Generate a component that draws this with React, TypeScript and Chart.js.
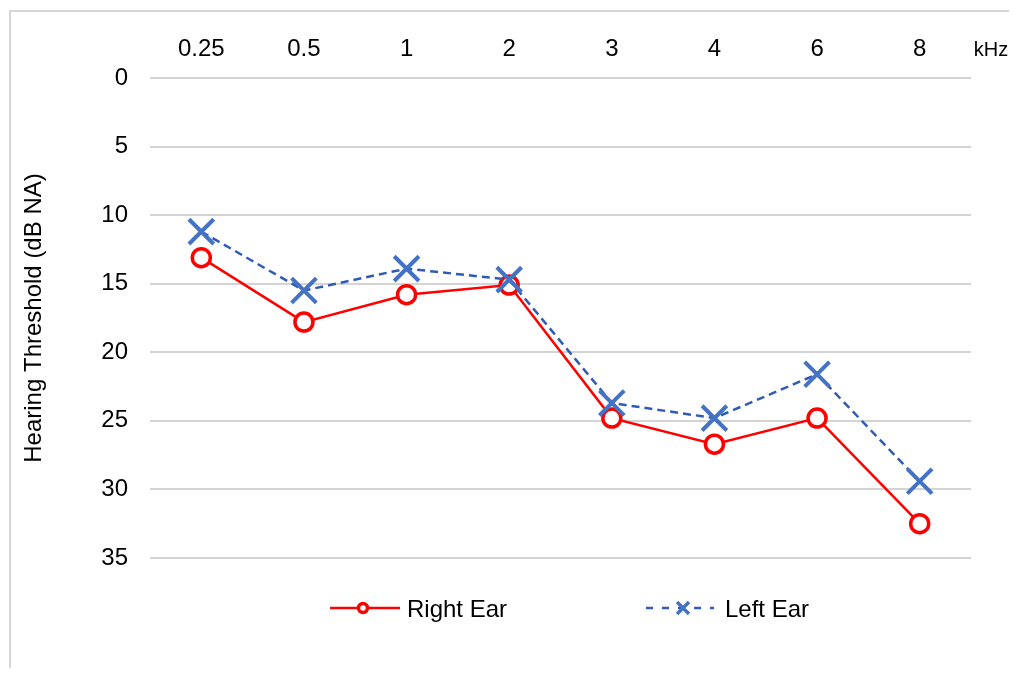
import { useEffect, useRef } from 'react';
import { Chart, registerables } from 'chart.js';

Chart.register(...registerables);

// ---- data ----
const frequencies = ['0.25', '0.5', '1', '2', '3', '4', '6', '8'];
const rightEar = [13.1, 17.8, 15.8, 15.1, 24.8, 26.7, 24.8, 32.5];
const leftEar = [11.2, 15.5, 13.9, 14.7, 23.7, 24.8, 21.6, 29.4];
const seriesNames = ['Right Ear', 'Left Ear'];
const unitLabel = 'kHz';
const yTitle = 'Hearing Threshold (dB NA)';
const yMin = 0;
const yMax = 35;
const yStep = 5;

const FONT = '"Liberation Sans", Arial, sans-serif';
const RED = '#ff0000';
const BLUE_LINE = '#2f5bb7';
const BLUE_MARK = '#4472c4';

const decorPlugin = {
  id: 'decor',
  beforeDraw(chart: any) {
    const { ctx, width, height } = chart;
    ctx.save();
    ctx.fillStyle = '#ffffff';
    ctx.fillRect(0, 0, width, height);
    ctx.strokeStyle = '#d6d6d6';
    ctx.lineWidth = 2;
    ctx.beginPath();
    ctx.moveTo(2, height);
    ctx.lineTo(2, 3);
    ctx.lineTo(width, 3);
    ctx.stroke();
    ctx.restore();
  },
  afterDraw(chart: any) {
    const { ctx, chartArea } = chart;
    ctx.save();
    // unit label
    ctx.font = `20px ${FONT}`;
    ctx.fillStyle = '#000';
    ctx.textAlign = 'center';
    ctx.textBaseline = 'alphabetic';
    ctx.fillText(unitLabel, chartArea.right + 20, 48);

    // legend
    const ly = chartArea.bottom + 50;
    // Right ear
    ctx.strokeStyle = RED;
    ctx.lineWidth = 2.5;
    ctx.setLineDash([]);
    ctx.beginPath();
    ctx.moveTo(322, ly);
    ctx.lineTo(392, ly);
    ctx.stroke();
    ctx.beginPath();
    ctx.arc(355, ly, 4.5, 0, Math.PI * 2);
    ctx.fillStyle = '#fff';
    ctx.fill();
    ctx.lineWidth = 3.5;
    ctx.stroke();
    // Left ear
    ctx.strokeStyle = BLUE_LINE;
    ctx.lineWidth = 2.5;
    ctx.setLineDash([7, 9]);
    ctx.beginPath();
    ctx.moveTo(638, ly);
    ctx.lineTo(706, ly);
    ctx.stroke();
    ctx.setLineDash([]);
    ctx.strokeStyle = BLUE_MARK;
    ctx.lineWidth = 3.5;
    const r = 6;
    ctx.beginPath();
    ctx.moveTo(675 - r, ly - r);
    ctx.lineTo(675 + r, ly + r);
    ctx.moveTo(675 + r, ly - r);
    ctx.lineTo(675 - r, ly + r);
    ctx.stroke();

    ctx.font = `24px ${FONT}`;
    ctx.fillStyle = '#000';
    ctx.textAlign = 'left';
    ctx.textBaseline = 'alphabetic';
    ctx.fillText(seriesNames[0], 399, ly + 9);
    ctx.fillText(seriesNames[1], 717, ly + 9);
    ctx.restore();
  },
};

export default function App() {
  const ref = useRef<HTMLCanvasElement | null>(null);

  useEffect(() => {
    if (!ref.current) return;
    const chart = new Chart(ref.current, {
      type: 'line',
      data: {
        labels: frequencies,
        datasets: [
          {
            label: seriesNames[0],
            data: rightEar,
            order: 1,
            borderColor: RED,
            borderWidth: 2.5,
            pointStyle: 'circle',
            pointRadius: 9,
            pointBorderWidth: 3.5,
            pointBorderColor: RED,
            pointBackgroundColor: '#ffffff',
            tension: 0,
          },
          {
            label: seriesNames[1],
            data: leftEar,
            order: 0,
            borderColor: BLUE_LINE,
            borderWidth: 2.5,
            borderDash: [8, 5],
            pointStyle: 'crossRot',
            pointRadius: 17.5,
            pointBorderWidth: 4,
            pointBorderColor: BLUE_MARK,
            pointBackgroundColor: BLUE_MARK,
            tension: 0,
          },
        ],
      },
      options: {
        responsive: false,
        animation: false,
        events: [],
        layout: { padding: { left: 0, right: 46, top: 0, bottom: 110 } },
        plugins: {
          legend: { display: false },
          tooltip: { enabled: false },
        },
        scales: {
          x: {
            type: 'category',
            position: 'top',
            offset: true,
            grid: { display: false },
            border: { display: false },
            ticks: {
              font: { size: 24, family: FONT },
              color: '#000',
              padding: 6,
              maxRotation: 0,
              autoSkip: false,
            },
            afterFit: (s: any) => {
              s.height = 70;
            },
          },
          y: {
            type: 'linear',
            reverse: true,
            min: yMin,
            max: yMax,
            ticks: {
              stepSize: yStep,
              font: { size: 24, family: FONT },
              color: '#000',
              padding: 22,
            },
            grid: { color: '#d4d4d4', lineWidth: 2, drawTicks: false },
            border: { display: false },
            title: {
              display: true,
              text: yTitle,
              font: { size: 24, family: FONT },
              color: '#000',
              padding: { top: 12, bottom: 0 },
            },
            afterFit: (s: any) => {
              s.width = 142;
            },
          },
        },
      },
      plugins: [decorPlugin],
    });
    return () => chart.destroy();
  }, []);

  return (
    <div style={{ width: 1009, height: 660 }}>
      <canvas ref={ref} width={1009} height={660} style={{ display: 'block' }} />
    </div>
  );
}
